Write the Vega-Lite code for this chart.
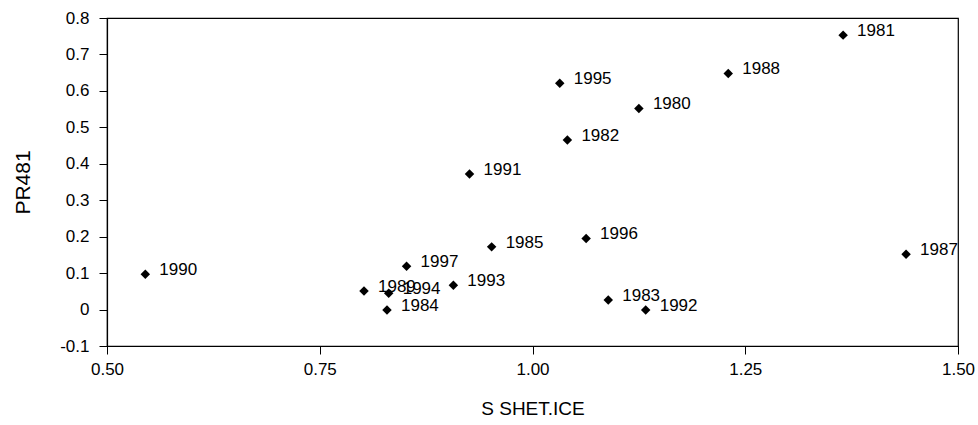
{
  "$schema": "https://vega.github.io/schema/vega-lite/v6.json",
  "width": 851,
  "height": 328,
  "autosize": {"type": "none"},
  "padding": {"left": 107, "top": 18, "right": 20, "bottom": 79},
  "background": "white",
  "config": {
    "font": "Liberation Sans",
    "view": {"stroke": "black", "strokeWidth": 1.2},
    "axis": {"grid": false, "domainColor": "black", "tickColor": "black", "labelColor": "black", "titleColor": "black", "labelFont": "Liberation Sans", "titleFont": "Liberation Sans", "titleFontWeight": "normal"}
  },
  "data": {
    "values": [
      {"x": 0.545, "y": 0.097, "year": "1990"},
      {"x": 0.802, "y": 0.051, "year": "1989"},
      {"x": 0.831, "y": 0.045, "year": "1994"},
      {"x": 0.829, "y": -0.001, "year": "1984"},
      {"x": 0.852, "y": 0.119, "year": "1997"},
      {"x": 0.907, "y": 0.067, "year": "1993"},
      {"x": 0.952, "y": 0.172, "year": "1985"},
      {"x": 0.926, "y": 0.372, "year": "1991"},
      {"x": 1.032, "y": 0.621, "year": "1995"},
      {"x": 1.041, "y": 0.465, "year": "1982"},
      {"x": 1.125, "y": 0.552, "year": "1980"},
      {"x": 1.063, "y": 0.195, "year": "1996"},
      {"x": 1.089, "y": 0.026, "year": "1983"},
      {"x": 1.133, "y": -0.001, "year": "1992"},
      {"x": 1.23, "y": 0.648, "year": "1988"},
      {"x": 1.365, "y": 0.753, "year": "1981"},
      {"x": 1.439, "y": 0.152, "year": "1987"}
    ]
  },
  "encoding": {
    "x": {
      "field": "x", "type": "quantitative",
      "scale": {"domain": [0.5, 1.5], "nice": false, "zero": false},
      "axis": {"title": "S SHET.ICE", "values": [0.5, 0.75, 1.0, 1.25, 1.5], "format": ".2f", "labelFontSize": 17, "titleFontSize": 19, "tickSize": 8, "labelPadding": 7, "titlePadding": 22, "domainWidth": 1.2, "labelFlush": false}
    },
    "y": {
      "field": "y", "type": "quantitative",
      "scale": {"domain": [-0.1, 0.8], "nice": false, "zero": false},
      "axis": {"title": "PR481", "values": [-0.1, 0, 0.1, 0.2, 0.3, 0.4, 0.5, 0.6, 0.7, 0.8], "labelExpr": "datum.value == 0 ? '0' : (datum.value < 0 ? '-' + format(-datum.value, '.1f') : format(datum.value, '.1f'))", "labelFontSize": 17, "titleFontSize": 21, "tickSize": 8, "labelPadding": 10, "titlePadding": 26, "domainWidth": 1.2, "labelFlush": false}
    }
  },
  "layer": [
    {"mark": {"type": "point", "shape": "diamond", "filled": true, "color": "black", "size": 90, "opacity": 1}},
    {"mark": {"type": "text", "align": "left", "baseline": "middle", "dx": 14, "dy": -4, "fontSize": 17, "color": "black"}, "encoding": {"text": {"field": "year"}}}
  ]
}
